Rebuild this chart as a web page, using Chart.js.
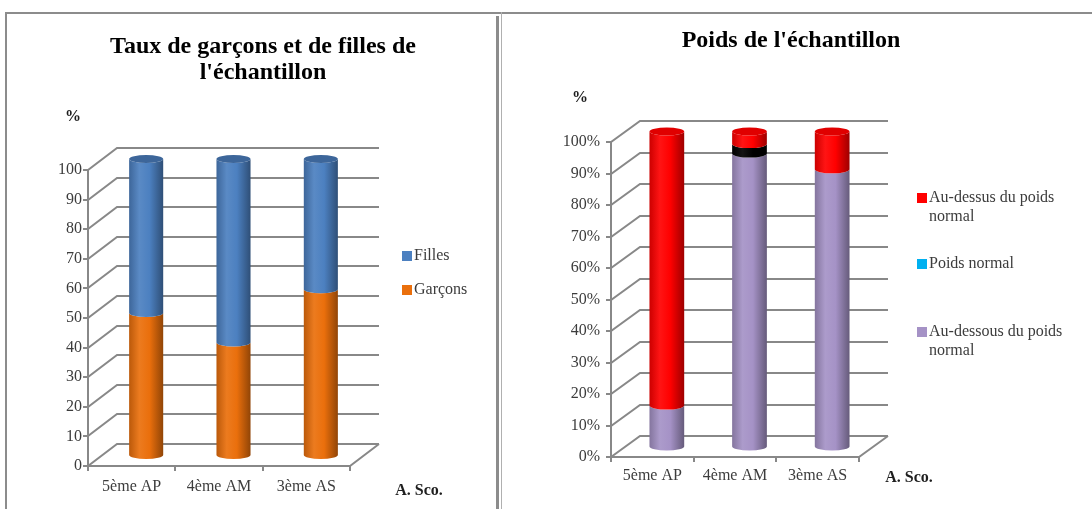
<!DOCTYPE html>
<html lang="fr">
<head>
<meta charset="utf-8">
<title>Échantillon</title>
<script src="https://cdn.jsdelivr.net/npm/chart.js@4.4.1/dist/chart.umd.min.js"></script>
<style>
  html, body { margin: 0; padding: 0; background: #fff; }
  body { width: 1092px; height: 509px; position: relative; overflow: hidden; }
  .rule { position: absolute; background: #8c8c8c; }
  #rule-top { left: 5px; top: 12px; width: 1087px; height: 2px; }
  #rule-left { left: 5px; top: 12px; width: 2px; height: 497px; }
  #rule-mid { left: 496px; top: 16px; width: 3px; height: 493px; }
  #rule-mid2 { left: 501px; top: 12px; width: 1px; height: 497px; background: #b0b0b0; }
  canvas { position: absolute; top: 0; }
  #chart-sexe { left: 0; }
  #chart-poids { left: 500px; }
</style>
</head>
<body>
<div class="rule" id="rule-top"></div>
<div class="rule" id="rule-left"></div>
<div class="rule" id="rule-mid"></div>
<div class="rule" id="rule-mid2"></div>
<canvas id="chart-sexe" width="497" height="509"></canvas>
<canvas id="chart-poids" width="592" height="509"></canvas>
<script>
// --- data ---
const CATEGORIES = ["5ème AP", "4ème AM", "3ème AS"];
const Y_TICKS = [0, 10, 20, 30, 40, 50, 60, 70, 80, 90, 100];

const GARCONS = [48, 38, 56];
const FILLES = [52, 62, 44];

const SOUS_POIDS = [13, 93, 88];
const POIDS_NORMAL = [0, 3, 0];
const SUR_POIDS = [87, 4, 12];

const TITLE_SEXE = ["Taux de garçons et de filles de", "l'échantillon"];
const TITLE_POIDS = ["Poids de l'échantillon"];
const UNIT = "%";
const AXIS_NAME = "A. Sco.";

const SERIF = "'Liberation Serif', 'Times New Roman', serif";
Chart.defaults.font.family = SERIF;

function shade(hex, f) {
  const n = parseInt(hex.slice(1), 16);
  const c = v => Math.max(0, Math.min(255, Math.round(f >= 1 ? v + (255 - v) * (f - 1) : v * f)));
  return `rgb(${c((n >> 16) & 255)},${c((n >> 8) & 255)},${c(n & 255)})`;
}

function wrapText(ctx, text, maxW) {
  const words = text.split(" ");
  const lines = [];
  let cur = "";
  words.forEach(w => {
    const t = cur ? cur + " " + w : w;
    if (cur && ctx.measureText(t).width > maxW) { lines.push(cur); cur = w; }
    else cur = t;
  });
  if (cur) lines.push(cur);
  return lines;
}

// 3D walls + cylinders, built from the chart's own scales and bar elements
const box3d = {
  id: "box3d",
  beforeDatasetsDraw(chart, args, o) {
    const { ctx } = chart;
    const { left: L, right: R, top: T, bottom: B } = chart.chartArea;
    const ys = chart.scales.y;
    const dx = o.dx, dy = o.dy;
    ctx.save();
    ctx.strokeStyle = "#888888";
    ctx.lineWidth = 2;
    ctx.beginPath();
    ys.ticks.forEach(t => {
      const py = Math.round(ys.getPixelForValue(t.value));
      ctx.moveTo(L - 5, py); ctx.lineTo(L, py);
      ctx.lineTo(L + dx, py + dy); ctx.lineTo(R + dx, py + dy);
    });
    ctx.moveTo(L, T); ctx.lineTo(L, B + 1);
    ctx.moveTo(L, B); ctx.lineTo(R, B); ctx.lineTo(R + dx, B + dy);
    const n = chart.data.labels.length;
    for (let i = 0; i <= n; i++) {
      const px = Math.round(L + (R - L) * i / n);
      ctx.moveTo(px, B); ctx.lineTo(px, B + 5);
    }
    ctx.stroke();

    const ry = o.ry;
    const sets = chart.data.datasets;
    for (let j = 0; j < n; j++) {
      let topIdx = -1;
      sets.forEach((d, i) => { if (d.data[j] > 0) topIdx = i; });
      sets.forEach((d, i) => {
        if (!(d.data[j] > 0)) return;
        const el = chart.getDatasetMeta(i).data[j];
        const cx = el.x + dx / 2, rx = el.width / 2;
        const yt = Math.min(el.y, el.base) + dy / 2;
        const yb = Math.max(el.y, el.base) + dy / 2;
        const col = d.backgroundColor;
        const g = ctx.createLinearGradient(cx - rx, 0, cx + rx, 0);
        g.addColorStop(0, shade(col, 0.8));
        g.addColorStop(0.3, shade(col, 1.08));
        g.addColorStop(0.6, col);
        g.addColorStop(1, shade(col, 0.62));
        ctx.fillStyle = g;
        ctx.beginPath();
        ctx.moveTo(cx - rx, yt);
        ctx.lineTo(cx - rx, yb);
        ctx.ellipse(cx, yb, rx, ry, 0, Math.PI, 0, true);
        ctx.lineTo(cx + rx, yt);
        ctx.ellipse(cx, yt, rx, ry, 0, 0, Math.PI, false);
        ctx.closePath();
        ctx.fill();
        if (i === topIdx) {
          ctx.fillStyle = shade(col, d.capShade || 0.85);
          ctx.beginPath();
          ctx.ellipse(cx, yt, rx, ry, 0, 0, Math.PI * 2);
          ctx.fill();
        }
      });
    }
    ctx.restore();
    return false;
  }
};

// titles, unit, axis name and the legend
const notes = {
  id: "notes",
  afterDraw(chart, args, o) {
    const ctx = chart.ctx;
    ctx.save();
    ctx.textBaseline = "middle";
    ctx.textAlign = "center";
    ctx.fillStyle = "#000";
    ctx.font = "bold 24px " + SERIF;
    o.title.forEach((line, i) => ctx.fillText(line, o.titleX, o.titleY[i]));
    ctx.font = "bold 16px " + SERIF;
    ctx.fillStyle = "#1e1e1e";
    ctx.fillText(UNIT, o.unitX, o.unitY);
    ctx.fillText(AXIS_NAME, o.axisX, o.axisY);

    ctx.textAlign = "left";
    ctx.font = "16px " + SERIF;
    const items = chart.data.datasets.slice().reverse();
    items.forEach((d, k) => {
      const y0 = o.legendY[k];
      ctx.fillStyle = d.legendColor || d.backgroundColor;
      ctx.fillRect(o.legendX, y0 - 5, 10, 10);
      ctx.fillStyle = "#3c3c3c";
      wrapText(ctx, d.label, o.legendMax).forEach((ln, m) => ctx.fillText(ln, o.legendX + 12, y0 + m * 19));
    });
    ctx.restore();
  }
};

function axes(o) {
  const tickFont = { size: 16, family: SERIF };
  return {
    x: {
      stacked: true,
      grid: { display: false, drawTicks: false },
      border: { display: false },
      ticks: { font: tickFont, color: "#3c3c3c", padding: o.xPad, maxRotation: 0 },
      afterFit: s => { s.height = o.xHeight; }
    },
    y: {
      stacked: true, min: 0, max: 100,
      grid: { display: false, drawTicks: false },
      border: { display: false },
      afterBuildTicks: s => { s.ticks = Y_TICKS.map(v => ({ value: v })); },
      ticks: { font: tickFont, color: "#3c3c3c", padding: o.yPad, callback: o.fmt },
      afterFit: s => { s.width = o.yWidth; }
    }
  };
}

new Chart(document.getElementById("chart-sexe"), {
  type: "bar",
  data: {
    labels: CATEGORIES,
    datasets: [
      { label: "Garçons", data: GARCONS, backgroundColor: "#ea6f0c", capShade: 0.85 },
      { label: "Filles", data: FILLES, backgroundColor: "#4c80c0", capShade: 0.8 }
    ]
  },
  options: {
    responsive: false, animation: false,
    datasets: { bar: { categoryPercentage: 1, barPercentage: 0.39 } },
    layout: { padding: { left: 48, right: 147, top: 170, bottom: 0 } },
    plugins: {
      legend: { display: false }, title: { display: false }, tooltip: { enabled: false },
      box3d: { dx: 29, dy: -22, ry: 4 },
      notes: {
        title: TITLE_SEXE, titleX: 263, titleY: [47, 73],
        unitX: 73, unitY: 117, axisX: 419, axisY: 491,
        legendX: 402, legendY: [256, 290], legendMax: 140
      }
    },
    scales: axes({ xPad: 11, xHeight: 43, yPad: 6, yWidth: 40, fmt: v => v })
  },
  plugins: [box3d, notes]
});

new Chart(document.getElementById("chart-poids"), {
  type: "bar",
  data: {
    labels: CATEGORIES,
    datasets: [
      { label: "Au-dessous du poids normal", data: SOUS_POIDS, backgroundColor: "#a592c6" },
      { label: "Poids normal", data: POIDS_NORMAL, backgroundColor: "#000000", legendColor: "#00b0f0" },
      { label: "Au-dessus du poids normal", data: SUR_POIDS, backgroundColor: "#ff0000", capShade: 0.88 }
    ]
  },
  options: {
    responsive: false, animation: false,
    datasets: { bar: { categoryPercentage: 1, barPercentage: 0.42 } },
    layout: { padding: { left: 61, right: 233, top: 142, bottom: 0 } },
    plugins: {
      legend: { display: false }, title: { display: false }, tooltip: { enabled: false },
      box3d: { dx: 29, dy: -21, ry: 4 },
      notes: {
        title: TITLE_POIDS, titleX: 291, titleY: [41],
        unitX: 80, unitY: 98, axisX: 409, axisY: 478,
        legendX: 417, legendY: [198, 264, 332], legendMax: 140
      }
    },
    scales: axes({ xPad: 9, xHeight: 52, yPad: 11, yWidth: 50, fmt: v => v + "%" })
  },
  plugins: [box3d, notes]
});
</script>
</body>
</html>
